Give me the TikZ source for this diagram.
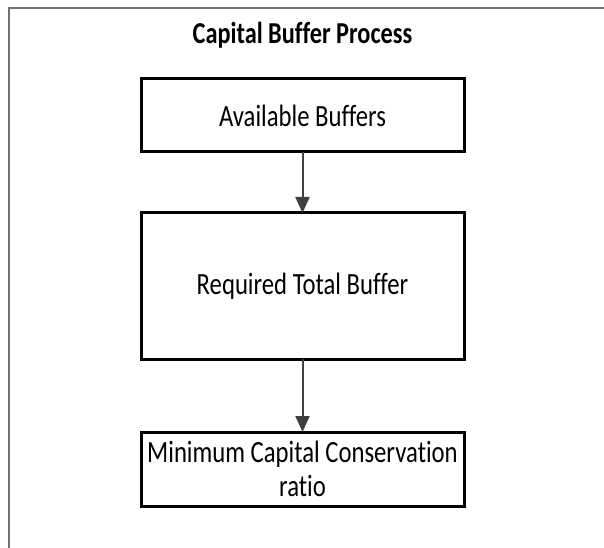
\documentclass[tikz,border=0pt]{standalone}
\usepackage{fontspec}
\setmainfont[FakeStretch=0.8,Ligatures={NoCommon}]{Carlito}
\usetikzlibrary{arrows.meta}

\begin{document}
\begin{tikzpicture}
[x=1bp,y=1bp,%
  lineDecorate/.style={-{Triangle[length=16bp,width=14bp]},line width=2bp,draw=black!75},%
  nodeDecorate/.style={shape=rectangle,inner sep=0pt,outer sep=0pt,draw,line width=3bp,
    minimum width=323bp,align=center,font=\fontsize{31}{34}\selectfont},
  frameDecorate/.style={line width=1.5bp,draw=black!55}]
\useasboundingbox (0,0) rectangle (604,-548);
%% frame and title
\draw[frameDecorate] (9,-548) -- (9,-8) -- (604,-8);
\node (title) at (302.5,-44) [anchor=base,font=\fontsize{30.5}{34}\selectfont\bfseries] {Capital Buffer Process};
%% nodes or vertices
\foreach \nodename/\y/\h/\nodetext in {Available/-115.5/73/Available Buffers,
  Required/-286/146/Required Total Buffer,
  Minimum/-469/74/Minimum Capital Conservation\\ratio}
{
  \node (\nodename) at (302.5,\y) [nodeDecorate,minimum height=\h bp] {\nodetext};
}
%% edges or lines
\path
\foreach \startnode/\endnode in {Available/Required, Required/Minimum}
{
  (\startnode.south) edge[lineDecorate] (\endnode.north)
};
\end{tikzpicture}
\end{document}
